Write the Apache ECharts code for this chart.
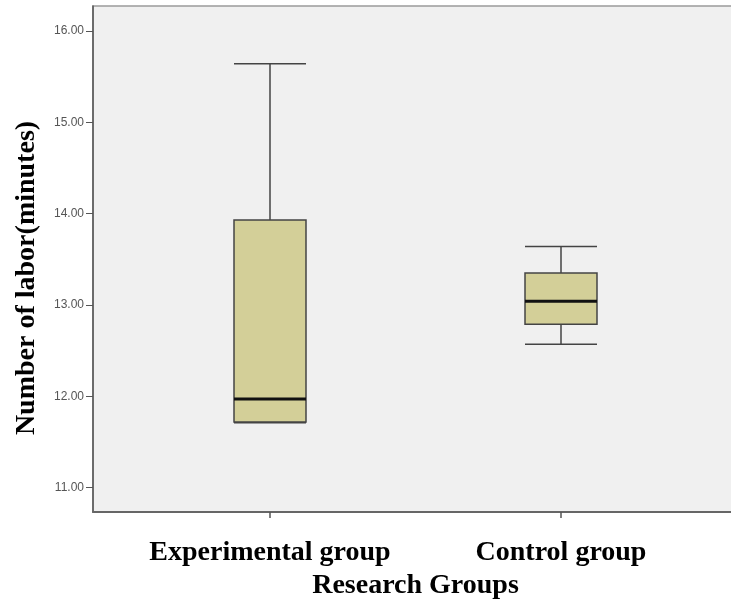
<!DOCTYPE html>
<html>
<head>
<meta charset="utf-8">
<script src="https://cdn.jsdelivr.net/npm/echarts@6/dist/echarts.min.js"></script>
<style>
  html, body { margin: 0; padding: 0; background: #fff; }
  #main { width: 731px; height: 600px; }
</style>
</head>
<body>
<div id="main"></div>
<script>
// groups on the x axis
var groups = ['Experimental group', 'Control group'];
// [min, Q1, median, Q3, max]
var boxStats = [
  [11.71, 11.72, 11.97, 13.93, 15.64],
  [12.57, 12.79, 13.04, 13.35, 13.64]
];
var medians = [11.97, 13.04];
var yTicks = [11, 12, 13, 14, 15, 16];
var yMin = 10.734, yMax = 16.273;

var myChart = echarts.init(document.getElementById('main'));
var serif = '"Liberation Serif", "Times New Roman", serif';

var option = {
  animation: false,
  grid: [
    { // frame + y axis
      left: 93, right: -2, top: 6, bottom: 88,
      outerBoundsMode: 'none', containLabel: false,
      show: true, backgroundColor: '#f0f0f0',
      borderColor: '#9a9a9a', borderWidth: 1.5
    },
    { // boxes sit in a narrower band
      left: 124.5, right: 24.5, top: 6, bottom: 88,
      outerBoundsMode: 'none', containLabel: false
    }
  ],
  xAxis: [
    {
      gridIndex: 0, type: 'value', min: 0, max: 1,
      axisLine: { show: true, lineStyle: { color: '#666', width: 2 } },
      axisTick: { show: false }, axisLabel: { show: false }, splitLine: { show: false }
    },
    {
      gridIndex: 1, type: 'category', data: groups,
      axisLine: { show: false },
      axisTick: { show: true, alignWithLabel: true, length: 6, lineStyle: { color: '#555', width: 1.5 } },
      axisLabel: {
        interval: 0, hideOverlap: false,
        margin: 27, color: '#000', fontFamily: serif, fontWeight: 'bold', fontSize: 28
      },
      name: 'Research Groups', nameLocation: 'middle', nameGap: 59,
      nameTextStyle: { color: '#000', fontFamily: serif, fontWeight: 'bold', fontSize: 28 }
    }
  ],
  yAxis: [
    {
      gridIndex: 0, type: 'value', min: yMin, max: yMax,
      axisLine: { show: true, lineStyle: { color: '#555', width: 1.5 } },
      axisTick: { show: true, length: 7, customValues: yTicks, lineStyle: { color: '#555' } },
      axisLabel: {
        customValues: yTicks, margin: 9, color: '#555', fontSize: 12,
        fontFamily: '"Liberation Sans", Arial, sans-serif',
        formatter: function (v) { return v.toFixed(2); }
      },
      splitLine: { show: false },
      name: 'Number of labor(minutes)', nameLocation: 'middle', nameGap: 52,
      nameTextStyle: {
        color: '#000', fontFamily: serif, fontWeight: 'bold', fontSize: 28,
        padding: [0, 38, 0, 0]
      }
    },
    {
      gridIndex: 1, type: 'value', min: yMin, max: yMax, show: false
    }
  ],
  series: [
    {
      type: 'boxplot', xAxisIndex: 1, yAxisIndex: 1,
      data: boxStats,
      boxWidth: [72, 72],
      itemStyle: { color: '#d3cf98', borderColor: '#444', borderWidth: 1.5 },
      emphasis: { disabled: true }
    },
    {
      // thick median bar laid over each box
      type: 'scatter', xAxisIndex: 1, yAxisIndex: 1,
      data: medians,
      symbol: 'rect', symbolSize: [72, 3],
      itemStyle: { color: '#111', opacity: 1 },
      emphasis: { disabled: true }, z: 5
    }
  ]
};
myChart.setOption(option);
</script>
</body>
</html>
